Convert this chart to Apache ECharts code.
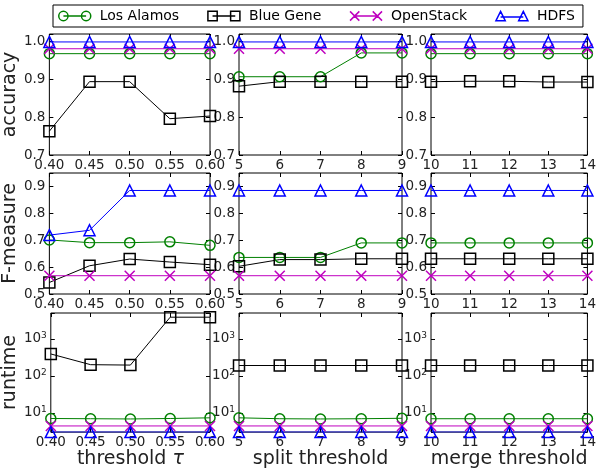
<!DOCTYPE html>
<html>
<head>
<meta charset="utf-8">
<script src="https://cdn.jsdelivr.net/npm/echarts@6/dist/echarts.min.js"></script>
<style>
html, body { margin: 0; padding: 0; background: #fff; }
#chart { width: 599px; height: 470px; }
</style>
</head>
<body>
<div id="chart"></div>
<script>
var seriesNames = ['Los Alamos', 'Blue Gene', 'OpenStack', 'HDFS'];
var tauLabels = ['0.40', '0.45', '0.50', '0.55', '0.60'];
var splitLabels = ['5', '6', '7', '8', '9'];
var mergeLabels = ['10', '11', '12', '13', '14'];

// each block: Los Alamos, Blue Gene, OpenStack, HDFS
var accuracyTau = [
    [0.968, 0.968, 0.968, 0.968, 0.968],
    [0.763, 0.894, 0.894, 0.796, 0.803],
    [0.981, 0.981, 0.981, 0.981, 0.981],
    [0.999, 0.999, 0.999, 0.999, 0.999]
];
var accuracySplit = [
    [0.907, 0.907, 0.907, 0.970, 0.970],
    [0.882, 0.894, 0.894, 0.894, 0.894],
    [0.981, 0.981, 0.981, 0.981, 0.981],
    [0.999, 0.999, 0.999, 0.999, 0.999]
];
var accuracyMerge = [
    [0.968, 0.968, 0.968, 0.968, 0.968],
    [0.894, 0.895, 0.895, 0.893, 0.893],
    [0.981, 0.981, 0.981, 0.981, 0.981],
    [0.999, 0.999, 0.999, 0.999, 0.999]
];
var fmeasureTau = [
    [0.701, 0.691, 0.691, 0.694, 0.681],
    [0.543, 0.605, 0.630, 0.619, 0.609],
    [0.568, 0.568, 0.568, 0.568, 0.568],
    [0.719, 0.737, 0.885, 0.885, 0.885]
];
var fmeasureSplit = [
    [0.636, 0.636, 0.636, 0.690, 0.690],
    [0.603, 0.628, 0.628, 0.631, 0.631],
    [0.568, 0.568, 0.568, 0.568, 0.568],
    [0.885, 0.885, 0.885, 0.885, 0.885]
];
var fmeasureMerge = [
    [0.690, 0.690, 0.690, 0.690, 0.690],
    [0.631, 0.631, 0.631, 0.631, 0.631],
    [0.568, 0.568, 0.568, 0.568, 0.568],
    [0.885, 0.885, 0.885, 0.885, 0.885]
];
var runtimeTau = [
    [7.0, 6.9, 6.8, 7.0, 7.3],
    [390, 200, 195, 3850, 3850],
    [4.4, 4.4, 4.4, 4.4, 4.4],
    [3.0, 3.0, 3.0, 3.0, 3.0]
];
var runtimeSplit = [
    [7.3, 6.9, 6.8, 6.9, 7.1],
    [190, 190, 190, 190, 190],
    [4.4, 4.4, 4.4, 4.4, 4.4],
    [3.0, 3.0, 3.0, 3.0, 3.0]
];
var runtimeMerge = [
    [6.9, 6.9, 6.9, 6.9, 6.9],
    [190, 190, 190, 190, 190],
    [4.4, 4.4, 4.4, 4.4, 4.4],
    [3.0, 3.0, 3.0, 3.0, 3.0]
];

var colCats = [tauLabels, splitLabels, mergeLabels];
var colNames = ['threshold {i|τ}', 'split threshold', 'merge threshold'];
var rowNames = ['accuracy', 'F-measure', 'runtime'];
var rowData = [
    [accuracyTau, accuracySplit, accuracyMerge],
    [fmeasureTau, fmeasureSplit, fmeasureMerge],
    [runtimeTau, runtimeSplit, runtimeMerge]
];

var colors = ['#008000', '#000000', '#bf00bf', '#0000ff'];
var symbols = ['circle', 'rect', 'path://M0,0L10,10M0,10L10,0', 'triangle'];
var symbolSizes = [10, 11, 10, 11];
var legendIcons = [
    'path://M0.5,5A4.5,4.5 0 1,1 9.5,5A4.5,4.5 0 1,1 0.5,5ZM5,5H27M22.5,5A4.5,4.5 0 1,1 31.5,5A4.5,4.5 0 1,1 22.5,5Z',
    'path://M0.5,0.5H9.5V9.5H0.5ZM5,5H27M22.5,0.5H31.5V9.5H22.5Z',
    'path://M0.5,0.5L9.5,9.5M0.5,9.5L9.5,0.5M5,5H27M22.5,0.5L31.5,9.5M22.5,9.5L31.5,0.5',
    'path://M5,0.5L9.5,9.5H0.5ZM5,6H27M27,0.5L31.5,9.5H22.5Z'
];

var colLeft = [48, 239, 431], colWidth = [162, 163, 162];
var rowTop = [34, 173, 313], rowHeight = [121, 121, 120];

var font = 'DejaVu Sans';
var txt = '#222';

function linearLabel(v) {
    return Math.abs(v * 10 - Math.round(v * 10)) < 1e-6 ? v.toFixed(1) : '';
}
function logLabel(v) {
    var e = Math.log10(v);
    if (Math.abs(e - Math.round(e)) > 1e-6) return '';
    return '{b|10}{s|' + Math.round(e) + '}';
}

var grids = [], xAxes = [], yAxes = [], series = [];
for (var r = 0; r < 3; r++) {
    for (var c = 0; c < 3; c++) {
        var g = r * 3 + c;
        grids.push({
            left: colLeft[c], top: rowTop[r], width: colWidth[c], height: rowHeight[r],
            show: true, borderColor: '#000', borderWidth: 1, backgroundColor: 'transparent'
        });
        var tick = { show: true, inside: true, length: 4, lineStyle: { color: '#000', width: 1 } };
        xAxes.push({
            type: 'category', gridIndex: g, data: colCats[c], boundaryGap: false, position: 'bottom',
            axisLine: { show: false }, axisTick: tick, splitLine: { show: false },
            axisLabel: { interval: 0, margin: 3, fontSize: 13.5, color: txt, fontFamily: font },
            name: r === 2 ? colNames[c] : '', nameLocation: 'middle', nameGap: 15,
            nameTextStyle: { fontSize: 19, color: txt, fontFamily: font, verticalAlign: 'top',
                rich: { i: { fontSize: 19, fontStyle: 'italic', fontFamily: font, color: txt } } }
        });
        xAxes.push({
            type: 'category', gridIndex: g, data: colCats[c], boundaryGap: false, position: 'top',
            axisLine: { show: false }, axisTick: tick, axisLabel: { show: false }, splitLine: { show: false }
        });
        var yBase;
        if (r === 2) {
            yBase = { type: 'log', min: 3, max: 5000, logBase: 10 };
        } else if (r === 1) {
            yBase = { type: 'value', min: 0.5, max: 0.95, interval: 0.1 };
        } else {
            yBase = { type: 'value', min: 0.7, max: 1.02, interval: 0.1 };
        }
        yAxes.push(Object.assign({}, yBase, {
            gridIndex: g, position: 'left',
            axisLine: { show: false }, axisTick: tick, splitLine: { show: false },
            axisLabel: {
                margin: 4, fontSize: 13.5, color: txt, fontFamily: font,
                formatter: r === 2 ? logLabel : linearLabel,
                rich: {
                    b: { fontSize: 13.5, lineHeight: 15, padding: [4, 0, 4, 0], color: txt, fontFamily: font },
                    s: { fontSize: 9, lineHeight: 10, verticalAlign: 'top', color: txt, fontFamily: font }
                }
            },
            name: c === 0 ? rowNames[r] : '', nameLocation: 'middle', nameGap: 20,
            nameTextStyle: { fontSize: 19, color: txt, fontFamily: font }
        }));
        yAxes.push(Object.assign({}, yBase, {
            gridIndex: g, position: 'right',
            axisLine: { show: false }, axisTick: tick, axisLabel: { show: false }, splitLine: { show: false }
        }));
        var block = rowData[r][c];
        for (var k = 0; k < 4; k++) {
            series.push({
                name: seriesNames[k], type: 'line',
                xAxisIndex: 2 * g, yAxisIndex: 2 * g,
                data: block[k],
                symbol: symbols[k], symbolSize: symbolSizes[k],
                lineStyle: { color: colors[k], width: 1 },
                itemStyle: { color: 'rgba(0,0,0,0)', borderColor: colors[k], borderWidth: 1.5 },
                emphasis: { disabled: true },
                animation: false
            });
        }
    }
}

var chart = echarts.init(document.getElementById('chart'));
chart.setOption({
    animation: false,
    backgroundColor: '#fff',
    legend: {
        left: 53, top: 5,
        padding: [4, 8, 4, 5],
        itemGap: 28, itemWidth: 32, itemHeight: 10,
        borderColor: '#000', borderWidth: 1,
        textStyle: { fontSize: 14, color: '#000', fontFamily: font, padding: [0, 0, 0, 4] },
        data: seriesNames.map(function (n, k) {
            return {
                name: n, icon: legendIcons[k],
                itemStyle: { color: 'rgba(0,0,0,0)', borderColor: colors[k], borderWidth: 1.5 }
            };
        })
    },
    grid: grids,
    xAxis: xAxes,
    yAxis: yAxes,
    series: series
});
</script>
</body>
</html>
